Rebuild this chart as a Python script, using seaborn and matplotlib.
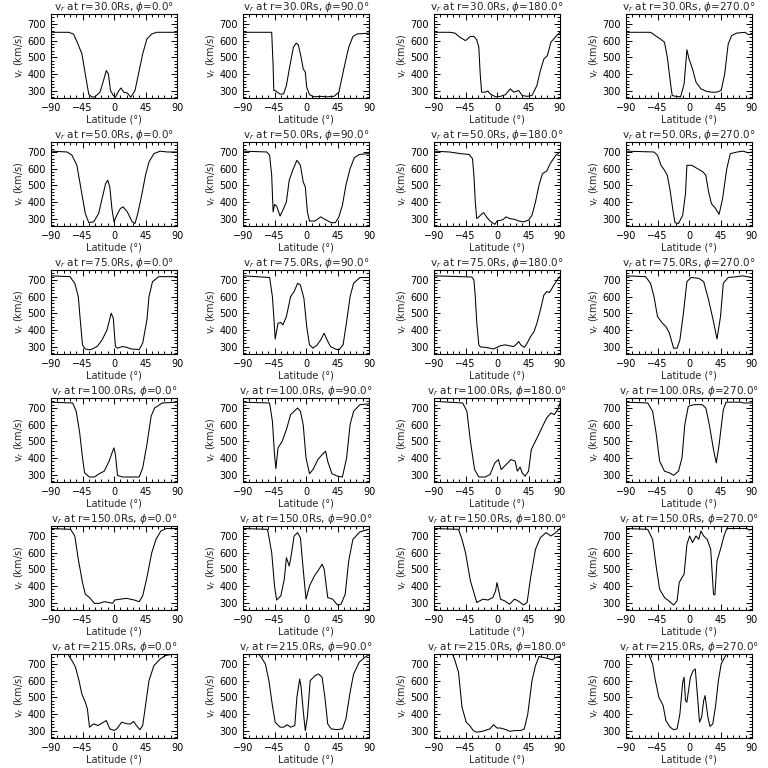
import matplotlib
matplotlib.use("Agg")
import matplotlib.pyplot as plt
from matplotlib.ticker import AutoMinorLocator
import seaborn as sns
import pandas as pd

radii = [30.0, 50.0, 75.0, 100.0, 150.0, 215.0]
phis = [0.0, 90.0, 180.0, 270.0]
x_ticks = [-90, -45, 0, 45, 90]
y_ticks = [300, 400, 500, 600, 700]

# r = 30 Rs
lat_r30_p0 = [-90, -65, -58, -53, -46, -41, -36, -31, -27, -20, -15, -11, -8, -5, -1, 2, 7, 10, 14, 19, 24, 30, 35, 41, 47, 54, 61, 90]
v_r30_p0 = [650, 650, 640, 594, 523, 398, 276, 260, 263, 290, 360, 420, 400, 300, 270, 260, 300, 315, 290, 285, 260, 300, 400, 520, 610, 640, 650, 650]
lat_r30_p90 = [-90, -49, -47, -46, -44, -41, -37, -32, -28, -23, -18, -14, -11, -7, -4, -1, 1, 5, 11, 20, 30, 40, 47, 54, 61, 67, 73, 90]
v_r30_p90 = [650, 650, 450, 300, 300, 290, 278, 280, 330, 450, 560, 585, 575, 500, 430, 410, 320, 275, 262, 265, 262, 265, 290, 430, 560, 625, 640, 645]
lat_r30_p180 = [-90, -67, -60, -53, -45, -38, -33, -29, -26, -24, -22, -17, -13, -10, -2, 5, 12, 19, 24, 31, 36, 43, 50, 57, 62, 67, 72, 77, 84, 90]
v_r30_p180 = [650, 650, 645, 620, 600, 625, 625, 605, 560, 400, 290, 290, 297, 280, 262, 265, 275, 310, 290, 300, 270, 265, 270, 330, 420, 490, 510, 590, 625, 650]
lat_r30_p270 = [-90, -55, -48, -41, -35, -31, -26, -24, -19, -12, -7, -3, 0, 5, 10, 17, 25, 32, 39, 46, 51, 56, 61, 68, 80, 85, 90]
v_r30_p270 = [650, 650, 630, 610, 590, 500, 330, 270, 265, 262, 340, 545, 490, 430, 350, 310, 295, 290, 290, 300, 400, 580, 630, 645, 650, 635, 645]

# r = 50 Rs
lat_r50_p0 = [-90, -67, -60, -53, -46, -41, -36, -29, -22, -17, -12, -9, -6, -3, 0, 4, 9, 13, 19, 26, 30, 34, 40, 45, 50, 57, 66, 76, 90]
v_r50_p0 = [705, 700, 680, 620, 450, 330, 275, 280, 330, 420, 510, 530, 490, 360, 280, 320, 360, 370, 340, 280, 270, 330, 450, 560, 640, 690, 705, 700, 700]
lat_r50_p90 = [-90, -56, -52, -49, -47, -45, -42, -37, -32, -28, -24, -19, -13, -8, -4, -1, 2, 5, 13, 21, 27, 36, 42, 47, 52, 57, 63, 69, 76, 90]
v_r50_p90 = [705, 700, 680, 560, 340, 385, 375, 315, 360, 400, 530, 590, 650, 620, 520, 490, 340, 285, 285, 310, 295, 275, 275, 310, 380, 500, 600, 665, 685, 690]
lat_r50_p180 = [-90, -68, -52, -40, -35, -33, -31, -29, -26, -21, -19, -15, -10, -5, -3, 0, 6, 9, 13, 18, 25, 31, 38, 45, 50, 55, 60, 65, 71, 76, 84, 90]
v_r50_p180 = [705, 700, 690, 685, 660, 560, 400, 300, 310, 330, 335, 310, 285, 270, 265, 285, 290, 295, 310, 300, 295, 285, 280, 290, 320, 400, 500, 570, 585, 630, 680, 700]
lat_r50_p270 = [-90, -50, -45, -40, -35, -31, -27, -23, -20, -15, -9, -5, -3, 4, 12, 20, 24, 28, 32, 38, 43, 48, 54, 59, 69, 77, 85, 90]
v_r50_p270 = [705, 700, 680, 620, 590, 560, 470, 350, 275, 270, 320, 450, 620, 620, 600, 580, 560, 460, 390, 360, 325, 420, 600, 690, 700, 705, 695, 700]

# r = 75 Rs
lat_r75_p0 = [-90, -63, -56, -51, -48, -45, -41, -34, -24, -17, -10, -4, -1, 2, 5, 12, 18, 25, 36, 41, 47, 50, 55, 64, 90]
v_r75_p0 = [725, 720, 680, 600, 450, 310, 285, 280, 300, 340, 400, 500, 470, 300, 290, 300, 295, 285, 282, 320, 460, 600, 690, 720, 720]
lat_r75_p90 = [-90, -52, -48, -46, -44, -40, -36, -33, -28, -22, -17, -12, -8, -3, 1, 5, 10, 16, 21, 26, 30, 35, 42, 47, 53, 58, 63, 68, 77, 90]
v_r75_p90 = [725, 715, 600, 480, 345, 440, 445, 430, 480, 600, 630, 680, 670, 590, 420, 310, 290, 310, 340, 380, 340, 300, 285, 280, 310, 450, 600, 680, 715, 715]
lat_r75_p180 = [-90, -67, -36, -33, -31, -29, -26, -24, -17, -12, -5, 0, 5, 12, 17, 24, 28, 31, 34, 39, 43, 48, 53, 57, 62, 67, 71, 75, 80, 86, 90]
v_r75_p180 = [725, 722, 718, 700, 600, 450, 310, 298, 295, 292, 285, 295, 305, 310, 305, 300, 315, 330, 310, 295, 320, 360, 390, 440, 520, 610, 630, 625, 660, 700, 720]
lat_r75_p270 = [-90, -62, -55, -50, -45, -38, -33, -28, -22, -17, -13, -8, -3, 3, 14, 21, 28, 35, 40, 45, 49, 56, 69, 76, 90]
v_r75_p270 = [725, 720, 680, 600, 480, 440, 420, 380, 290, 290, 340, 500, 690, 715, 710, 690, 580, 450, 345, 480, 680, 715, 720, 725, 715]

# r = 100 Rs
lat_r100_p0 = [-90, -59, -54, -49, -45, -42, -35, -28, -21, -14, -7, -2, 0, 2, 5, 12, 18, 36, 41, 47, 53, 58, 69, 90]
v_r100_p0 = [735, 730, 680, 550, 400, 310, 285, 285, 305, 320, 380, 440, 460, 420, 295, 285, 285, 285, 340, 480, 650, 700, 730, 735]
lat_r100_p90 = [-90, -52, -48, -45, -43, -40, -34, -28, -22, -17, -12, -8, -4, 0, 5, 10, 17, 23, 28, 31, 37, 45, 52, 58, 63, 68, 77, 90]
v_r100_p90 = [735, 730, 620, 420, 335, 460, 500, 570, 660, 680, 700, 680, 600, 400, 305, 330, 390, 420, 440, 380, 305, 290, 285, 400, 600, 680, 720, 725]
lat_r100_p180 = [-90, -49, -43, -38, -32, -26, -17, -10, -3, 2, 6, 13, 20, 26, 29, 33, 36, 40, 45, 49, 56, 64, 71, 77, 82, 88, 90]
v_r100_p180 = [740, 730, 680, 500, 330, 285, 285, 300, 370, 390, 330, 360, 390, 380, 320, 345, 310, 290, 320, 450, 510, 580, 640, 670, 660, 700, 730]
lat_r100_p270 = [-90, -59, -52, -47, -42, -35, -28, -22, -15, -10, -6, -1, 7, 19, 24, 29, 35, 39, 43, 49, 53, 74, 78, 90]
v_r100_p270 = [735, 730, 680, 550, 380, 320, 310, 295, 320, 400, 600, 710, 720, 720, 700, 600, 450, 370, 480, 690, 735, 735, 730, 730]

# r = 150 Rs
lat_r150_p0 = [-90, -62, -56, -51, -45, -41, -35, -28, -21, -14, -7, -2, 1, 9, 18, 29, 36, 41, 47, 54, 60, 67, 75, 90]
v_r150_p0 = [745, 740, 700, 560, 420, 350, 330, 295, 295, 305, 300, 295, 315, 320, 325, 315, 305, 340, 450, 600, 680, 730, 745, 745]
lat_r150_p90 = [-90, -55, -49, -45, -42, -36, -31, -28, -24, -22, -17, -12, -8, -4, 0, 5, 12, 17, 23, 26, 31, 38, 45, 50, 56, 61, 67, 77, 90]
v_r150_p90 = [745, 740, 600, 400, 315, 340, 440, 570, 520, 560, 700, 720, 690, 500, 320, 400, 460, 490, 530, 500, 330, 320, 285, 290, 350, 550, 680, 725, 740]
lat_r150_p180 = [-90, -55, -50, -45, -38, -33, -29, -20, -13, -6, -2, 0, 5, 11, 18, 25, 30, 38, 43, 48, 55, 62, 70, 77, 84, 90]
v_r150_p180 = [745, 740, 680, 600, 430, 360, 300, 320, 315, 330, 370, 420, 320, 310, 290, 320, 310, 285, 300, 450, 620, 690, 720, 700, 720, 745]
lat_r150_p270 = [-90, -59, -52, -47, -42, -35, -26, -22, -17, -14, -10, -7, -3, 1, 5, 10, 14, 17, 21, 26, 31, 35, 37, 40, 45, 50, 54, 83, 86, 90]
v_r150_p270 = [745, 740, 680, 520, 380, 330, 300, 285, 310, 420, 450, 470, 650, 700, 660, 700, 680, 730, 700, 680, 620, 350, 345, 550, 620, 700, 745, 745, 735, 740]

# r = 215 Rs
lat_r215_p0 = [-90, -67, -60, -55, -50, -46, -41, -38, -35, -29, -23, -17, -11, -6, 0, 4, 11, 19, 24, 28, 32, 37, 41, 45, 50, 57, 66, 73, 90]
v_r215_p0 = [765, 765, 720, 680, 600, 520, 470, 430, 320, 340, 330, 345, 360, 310, 300, 310, 350, 340, 340, 355, 330, 305, 330, 450, 600, 690, 730, 750, 765]
lat_r215_p90 = [-90, -69, -64, -58, -53, -48, -44, -37, -32, -27, -22, -16, -13, -9, -7, -4, -1, 2, 6, 13, 18, 23, 27, 31, 36, 44, 52, 57, 63, 68, 76, 84, 90]
v_r215_p90 = [765, 765, 740, 700, 600, 450, 350, 320, 320, 335, 320, 330, 500, 610, 560, 420, 300, 380, 600, 630, 640, 620, 500, 340, 310, 305, 310, 370, 530, 640, 710, 740, 755]
lat_r215_p180 = [-90, -64, -60, -55, -50, -44, -39, -34, -29, -21, -10, -5, 0, 5, 13, 18, 26, 34, 39, 44, 50, 55, 60, 71, 79, 84, 90]
v_r215_p180 = [765, 765, 720, 650, 440, 350, 330, 300, 290, 295, 310, 335, 315, 315, 305, 295, 300, 300, 310, 400, 600, 690, 745, 735, 725, 740, 745]
lat_r215_p270 = [-90, -58, -52, -48, -43, -37, -33, -27, -22, -17, -13, -9, -7, -5, -3, 2, 6, 9, 13, 15, 18, 21, 23, 27, 30, 34, 38, 42, 46, 51, 54, 90]
v_r215_p270 = [765, 765, 700, 600, 500, 450, 360, 320, 305, 310, 400, 590, 620, 480, 470, 620, 660, 670, 460, 350, 380, 480, 510, 380, 325, 340, 450, 600, 700, 740, 765, 765]

lat_rows = [
    [lat_r30_p0, lat_r30_p90, lat_r30_p180, lat_r30_p270],
    [lat_r50_p0, lat_r50_p90, lat_r50_p180, lat_r50_p270],
    [lat_r75_p0, lat_r75_p90, lat_r75_p180, lat_r75_p270],
    [lat_r100_p0, lat_r100_p90, lat_r100_p180, lat_r100_p270],
    [lat_r150_p0, lat_r150_p90, lat_r150_p180, lat_r150_p270],
    [lat_r215_p0, lat_r215_p90, lat_r215_p180, lat_r215_p270],
]
v_rows = [
    [v_r30_p0, v_r30_p90, v_r30_p180, v_r30_p270],
    [v_r50_p0, v_r50_p90, v_r50_p180, v_r50_p270],
    [v_r75_p0, v_r75_p90, v_r75_p180, v_r75_p270],
    [v_r100_p0, v_r100_p90, v_r100_p180, v_r100_p270],
    [v_r150_p0, v_r150_p90, v_r150_p180, v_r150_p270],
    [v_r215_p0, v_r215_p90, v_r215_p180, v_r215_p270],
]

sns.set_theme(style="ticks")
plt.rcParams['font.family'] = ['DejaVu Sans']
plt.rcParams['mathtext.fontset'] = 'dejavusans'

fig = plt.figure(figsize=(7.68, 7.68), dpi=100)
W = H = 768.0
col_left = [51, 243, 434, 626]
ax_w, ax_h = 126, 84

for i, r in enumerate(radii):
    top = 14 + 128 * i
    for j, phi in enumerate(phis):
        ax = fig.add_axes([col_left[j] / W, 1 - (top + ax_h) / H, ax_w / W, ax_h / H])
        df = pd.DataFrame({"lat": lat_rows[i][j], "v": v_rows[i][j]})
        sns.lineplot(data=df, x="lat", y="v", ax=ax, color="black", lw=0.75,
                     estimator=None, sort=False)
        ax.set_xlim(-90, 90)
        ax.set_ylim(255, 760)
        ax.set_xticks(x_ticks)
        ax.set_yticks(y_ticks)
        ax.xaxis.set_minor_locator(AutoMinorLocator(5))
        ax.yaxis.set_minor_locator(AutoMinorLocator(5))
        ax.tick_params(which="both", direction="in", top=True, right=True,
                       labelsize=7, width=0.7, colors="black")
        ax.tick_params(which="major", length=4)
        ax.tick_params(which="minor", length=2)
        for s in ax.spines.values():
            s.set_linewidth(0.8)
            s.set_color("black")
        ax.set_title(r"v$_r$ at r=%.1fRs, $\phi$=%.1f°" % (r, phi),
                     fontsize=7.5, pad=2)
        ax.set_xlabel("Latitude (°)", fontsize=7, labelpad=1)
        ax.set_ylabel(r"v$_r$ (km/s)", fontsize=7, labelpad=1)

fig.savefig("out.png", dpi=100, facecolor="white")
